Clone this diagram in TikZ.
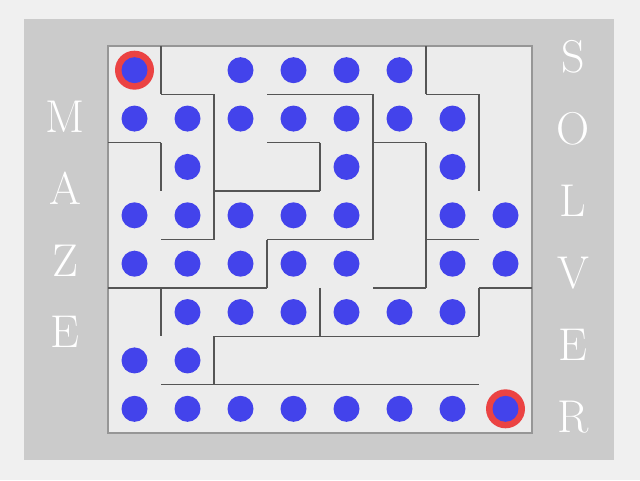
\documentclass[tikz,border=0pt]{standalone}
\usepackage{tikz}

\begin{document}
\begin{tikzpicture}[x=1pt,y=-1pt]

\definecolor{mybg}{RGB}{240,240,240}
\definecolor{mypanel}{RGB}{203,203,203}
\definecolor{myfloor}{RGB}{236,236,236}
\definecolor{myframe}{RGB}{150,150,150}
\definecolor{mywall}{RGB}{85,85,85}
\definecolor{myblue}{RGB}{67,67,235}
\definecolor{myred}{RGB}{235,67,67}

\tikzset{
  wall/.style={mywall, line width=1.3pt},
  letter/.style={white, inner sep=0pt, font=\fontsize{46}{46}\selectfont},
  dot/.style={circle, fill=myblue, minimum size=26pt, inner sep=0pt},
  ring/.style={circle, fill=myred, minimum size=39pt, inner sep=0pt}
}

% page and grey panel
\fill[mybg] (0,0) rectangle (640,480);
\fill[mypanel] (24,19) rectangle (614,460);

% title letters
\foreach \lt [count=\i] in {M,A,Z,E}
  \node[letter] (maze\i) at (65,{117+71.7*(\i-1)}) {\lt};
\foreach \lt [count=\i] in {S,O,L,V,E,R}
  \node[letter] (solver\i) at (573,{57+72*(\i-1)}) {\lt};

\begin{scope}[shift={(108,46)}, x=53pt, y=-48.375pt]

  \draw[myframe, line width=1.2pt, fill=myfloor] (0,0) rectangle (8,8);

  % vertical walls: column / from row / to row
  \foreach \c/\a/\b in {1/0/1, 1/2/3, 1/5/6, 2/1/4, 2/6/7, 3/4/5, 4/2/3, 4/5/6,
                        5/1/4, 6/0/1, 6/2/5, 7/1/3, 7/5/6}
    \draw[wall] (\c,\a) -- (\c,\b);

  % horizontal walls: row / from column / to column
  \foreach \r/\a/\b in {1/1/2, 1/3/5, 1/6/7, 2/0/1, 2/3/4, 2/5/6, 3/2/4,
                        4/1/2, 4/3/5, 4/6/7, 5/0/3, 5/5/6, 5/7/8, 6/2/7, 7/1/7}
    \draw[wall] (\a,\r) -- (\b,\r);

  % start and goal
  \node[ring] (start) at (0.5,0.5) {};
  \node[ring] (goal) at (7.5,7.5) {};

  % cells on the path
  \foreach \c/\r in {0/0, 2/0, 3/0, 4/0, 5/0,
                     0/1, 1/1, 2/1, 3/1, 4/1, 5/1, 6/1,
                     1/2, 4/2, 6/2,
                     0/3, 1/3, 2/3, 3/3, 4/3, 6/3, 7/3,
                     0/4, 1/4, 2/4, 3/4, 4/4, 6/4, 7/4,
                     1/5, 2/5, 3/5, 4/5, 5/5, 6/5,
                     0/6, 1/6,
                     0/7, 1/7, 2/7, 3/7, 4/7, 5/7, 6/7, 7/7}
    \node[dot] (cell-\c-\r) at (\c+0.5,\r+0.5) {};

\end{scope}

\end{tikzpicture}
\end{document}
